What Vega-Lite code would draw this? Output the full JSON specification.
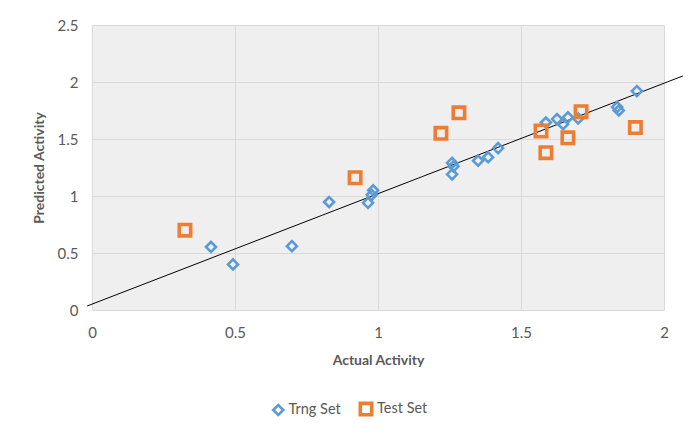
{
  "$schema": "https://vega.github.io/schema/vega-lite/v6.json",
  "width": 572,
  "height": 285,
  "autosize": "none",
  "padding": {"left": 92, "top": 25, "right": 30, "bottom": 132},
  "background": "white",
  "config": {
    "font": "Lato",
    "view": {"stroke": null, "fill": "#efefef"},
    "axis": {
      "labelFont": "Lato", "labelFontSize": 15, "labelColor": "#595959",
      "titleFont": "Lato", "titleFontSize": 14, "titleFontWeight": "bold", "titleColor": "#595959",
      "grid": true, "gridColor": "#d9d9d9", "gridWidth": 1,
      "domain": false, "ticks": false, "tickSize": 0
    },
    "legend": {"labelFont": "Lato", "labelFontSize": 14.5, "labelColor": "#595959"}
  },
  "datasets": {
    "pts": [
      {"actual": 0.416, "predicted": 0.553, "set": "Trng Set"},
      {"actual": 0.493, "predicted": 0.40, "set": "Trng Set"},
      {"actual": 0.699, "predicted": 0.56, "set": "Trng Set"},
      {"actual": 0.829, "predicted": 0.947, "set": "Trng Set"},
      {"actual": 0.965, "predicted": 0.94, "set": "Trng Set"},
      {"actual": 0.983, "predicted": 1.05, "set": "Trng Set"},
      {"actual": 0.978, "predicted": 1.01, "set": "Trng Set"},
      {"actual": 1.259, "predicted": 1.29, "set": "Trng Set"},
      {"actual": 1.264, "predicted": 1.26, "set": "Trng Set"},
      {"actual": 1.259, "predicted": 1.19, "set": "Trng Set"},
      {"actual": 1.35, "predicted": 1.31, "set": "Trng Set"},
      {"actual": 1.385, "predicted": 1.34, "set": "Trng Set"},
      {"actual": 1.42, "predicted": 1.42, "set": "Trng Set"},
      {"actual": 1.587, "predicted": 1.645, "set": "Trng Set"},
      {"actual": 1.626, "predicted": 1.675, "set": "Trng Set"},
      {"actual": 1.647, "predicted": 1.63, "set": "Trng Set"},
      {"actual": 1.664, "predicted": 1.69, "set": "Trng Set"},
      {"actual": 1.70, "predicted": 1.68, "set": "Trng Set"},
      {"actual": 1.836, "predicted": 1.78, "set": "Trng Set"},
      {"actual": 1.842, "predicted": 1.75, "set": "Trng Set"},
      {"actual": 1.905, "predicted": 1.92, "set": "Trng Set"},
      {"actual": 0.325, "predicted": 0.70, "set": "Test Set"},
      {"actual": 0.92, "predicted": 1.16, "set": "Test Set"},
      {"actual": 1.22, "predicted": 1.55, "set": "Test Set"},
      {"actual": 1.283, "predicted": 1.73, "set": "Test Set"},
      {"actual": 1.57, "predicted": 1.57, "set": "Test Set"},
      {"actual": 1.587, "predicted": 1.38, "set": "Test Set"},
      {"actual": 1.664, "predicted": 1.51, "set": "Test Set"},
      {"actual": 1.71, "predicted": 1.74, "set": "Test Set"},
      {"actual": 1.90, "predicted": 1.60, "set": "Test Set"}
    ],
    "trend": [
      {"actual": -0.017, "predicted": 0.035},
      {"actual": 2.066, "predicted": 2.053}
    ]
  },
  "layer": [
    {
      "data": {"name": "trend"},
      "mark": {"type": "line", "color": "#000000", "strokeWidth": 1, "clip": false},
      "encoding": {
        "x": {"field": "actual", "type": "quantitative"},
        "y": {"field": "predicted", "type": "quantitative"}
      }
    },
    {
      "data": {"name": "pts"},
      "mark": {"type": "point", "filled": false, "opacity": 1},
      "encoding": {
        "x": {
          "field": "actual", "type": "quantitative",
          "scale": {"domain": [0, 2], "nice": false, "zero": false},
          "axis": {"title": "Actual Activity", "values": [0, 0.5, 1, 1.5, 2], "format": "~g", "labelPadding": 15, "titlePadding": 13, "labelFlush": false}
        },
        "y": {
          "field": "predicted", "type": "quantitative",
          "scale": {"domain": [0, 2.5], "nice": false, "zero": false},
          "axis": {"title": "Predicted Activity", "values": [0, 0.5, 1, 1.5, 2, 2.5], "format": "~g", "labelPadding": 14, "titlePadding": 11, "labelFlush": false}
        },
        "color": {
          "field": "set", "type": "nominal",
          "scale": {"domain": ["Trng Set", "Test Set"], "range": ["#5B9BD5", "#ED7D31"]},
          "legend": {
            "title": null, "orient": "none", "direction": "horizontal",
            "legendX": 179, "legendY": 376, "padding": 0,
            "symbolSize": 110, "labelOffset": 3, "columnPadding": 12
          }
        },
        "shape": {
          "field": "set", "type": "nominal",
          "scale": {"domain": ["Trng Set", "Test Set"], "range": ["diamond", "square"]}
        },
        "strokeWidth": {
          "field": "set", "type": "nominal",
          "scale": {"domain": ["Trng Set", "Test Set"], "range": [2.6, 3.6]}
        },
        "size": {
          "field": "set", "type": "nominal",
          "scale": {"domain": ["Trng Set", "Test Set"], "range": [100, 130]},
          "legend": null
        }
      }
    }
  ]
}
